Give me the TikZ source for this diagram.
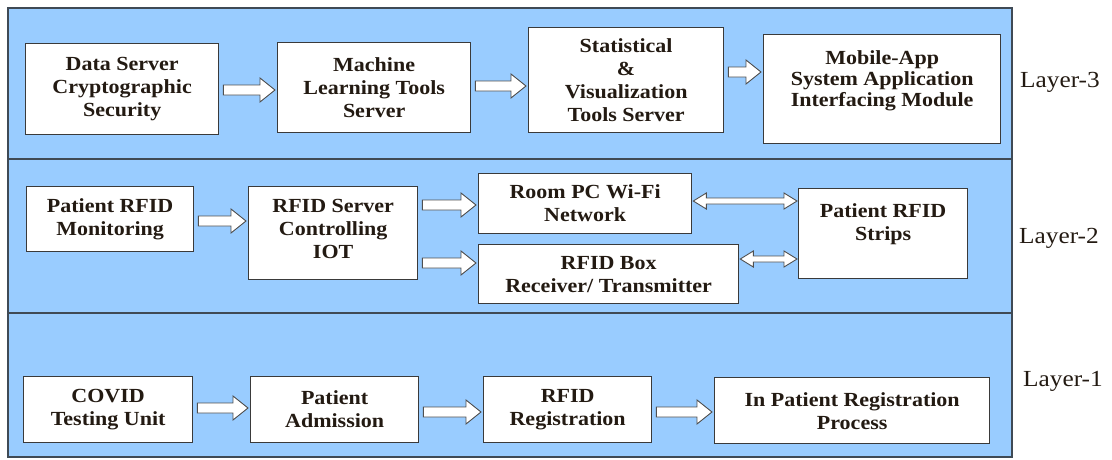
\documentclass[tikz,border=0pt]{standalone}
\usepackage{fontspec}
\setmainfont[FakeStretch=1.1]{Liberation Serif}
\usetikzlibrary{calc}
\definecolor{layerblue}{HTML}{99CCFF}
\definecolor{framegray}{HTML}{3F4A55}
\definecolor{boxgray}{HTML}{3A3A3A}
\definecolor{arrowgray}{HTML}{505050}
\definecolor{txtcol}{HTML}{231A12}
\tikzset{
  box/.style={draw=boxgray, line width=1.3pt, fill=white, inner sep=0pt, anchor=north west,
    align=center, font=\fontsize{20}{23}\selectfont\bfseries, text=txtcol},
  btext/.style={inner sep=0pt, align=center, font=\fontsize{20}{23}\selectfont\bfseries, text=txtcol},
  barrow/.style={draw=arrowgray, fill=white, line width=0.9pt, line join=miter},
  layerlbl/.style={font=\fontsize{23}{26}\selectfont, text=txtcol, anchor=west, inner sep=0pt},
}
% single block arrow: from node, to node, y (px)
\newcommand\sarrow[3]{%
  \draw[barrow] let \p1=(#1.east), \p2=(#2.west) in
    (\x1+4pt,-#3pt+5pt) -- (\x2-17pt,-#3pt+5pt) -- (\x2-17pt,-#3pt+12pt) -- (\x2-2pt,-#3pt)
    -- (\x2-17pt,-#3pt-12pt) -- (\x2-17pt,-#3pt-5pt) -- (\x1+4pt,-#3pt-5pt) -- cycle;}
% double block arrow
\newcommand\darrow[3]{%
  \draw[barrow] let \p1=(#1.east), \p2=(#2.west) in
    (\x1+1pt,-#3pt) -- (\x1+14pt,-#3pt+8pt) -- (\x1+14pt,-#3pt+3pt) -- (\x2-14pt,-#3pt+3pt)
    -- (\x2-14pt,-#3pt+8pt) -- (\x2-1pt,-#3pt) -- (\x2-14pt,-#3pt-8pt) -- (\x2-14pt,-#3pt-3pt)
    -- (\x1+14pt,-#3pt-3pt) -- (\x1+14pt,-#3pt-8pt) -- cycle;}
\begin{document}
\begin{tikzpicture}[x=1pt,y=-1pt]
\useasboundingbox (0,0) rectangle (1112,459);
% layer frame
\draw[fill=layerblue, draw=framegray, line width=1.6pt] (8,8) rectangle (1012,457);
\draw[framegray, line width=2pt] (8,158.5) -- (1012,158.5);
\draw[framegray, line width=2pt] (8,313) -- (1012,313);

% Layer 3
\node[box, minimum width=193pt, minimum height=91pt] (ds) at (25,43) {Data Server\\Cryptographic\\Security};
\node[box, minimum width=193pt, minimum height=90pt] (ml) at (277,42) {Machine\\Learning Tools\\Server};
\node[box, minimum width=195pt, minimum height=105pt] (st) at (528,27) {Statistical\\\&\\Visualization\\Tools Server};
\node[box, minimum width=237pt, minimum height=109pt] (ma) at (763,34) {};
\node[btext, font=\fontsize{20}{21}\selectfont\bfseries] (maT) at ([yshift=8pt]ma.center) {Mobile-App\\System Application\\Interfacing Module};

% Layer 2
\node[box, minimum width=167pt, minimum height=65pt] (prm) at (26,186) {Patient RFID\\Monitoring};
\node[box, minimum width=169pt, minimum height=93pt] (rs) at (248,186) {};
\node[btext] (rsT) at ([yshift=4pt]rs.center) {RFID Server\\Controlling\\IOT};
\node[box, minimum width=213pt, minimum height=60pt] (rpc) at (478,173) {Room PC Wi-Fi\\Network};
\node[box, minimum width=260pt, minimum height=59pt] (rbox) at (478,244) {RFID Box\\Receiver/ Transmitter};
\node[box, minimum width=169pt, minimum height=90pt] (strips) at (798,188) {};
\node[btext] (stripsT) at ([yshift=9pt]strips.center) {Patient RFID\\Strips};

% Layer 1
\node[box, minimum width=169pt, minimum height=66pt] (cov) at (23,376) {COVID\\Testing Unit};
\node[box, minimum width=168pt, minimum height=66pt] (pa) at (250,376) {Patient\\Admission};
\node[box, minimum width=168pt, minimum height=66pt] (rr) at (483,376) {RFID\\Registration};
\node[box, minimum width=275pt, minimum height=66pt] (ip) at (714,377) {In Patient Registration\\Process};

% arrows
\sarrow{ds}{ml}{90}
\sarrow{ml}{st}{86}
\sarrow{st}{ma}{72}
\sarrow{prm}{rs}{221}
\sarrow{rs}{rpc}{205}
\sarrow{rs}{rbox}{263}
\darrow{rpc}{strips}{201}
\darrow{rbox}{strips}{259}
\sarrow{cov}{pa}{408}
\sarrow{pa}{rr}{412}
\sarrow{rr}{ip}{412}

% layer labels
\node[layerlbl] (l3) at (1020,82) {Layer-3};
\node[layerlbl] (l2) at (1019,238) {Layer-2};
\node[layerlbl] (l1) at (1023,381) {Layer-1};
\end{tikzpicture}
\end{document}
